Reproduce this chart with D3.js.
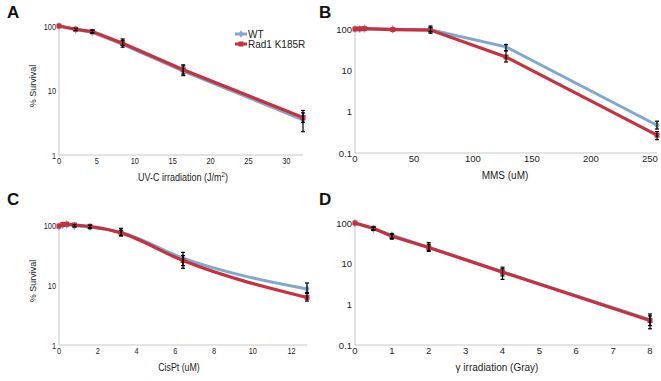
<!DOCTYPE html>
<html><head><meta charset="utf-8">
<script src="https://cdn.jsdelivr.net/npm/d3@7"></script>
<style>
body{margin:0;background:#fff;}
svg{display:block;font-family:"Liberation Sans",Arial,sans-serif;}
</style></head><body>
<svg id="chart" width="661" height="381"></svg>
<script>
// ---- Data ----
const seriesNames = ["WT", "Rad1 K185R"];

// Panel A: UV-C
const uvDose = [0, 2.2, 4.4, 8.4, 16.4, 32.2];
const uvWT = [100, 88, 80, 52, 20, 3.5];
const uvWTLo = [98, 85, 77, 47, 17, 2.3];
const uvWTHi = [102, 92, 86, 63, 25, 4.9];
const uvRad1 = [100, 89, 82, 54, 21, 3.8];
const uvRad1Lo = [98, 86, 79, 50, 18, 3.2];
const uvRad1Hi = [102, 92, 86, 60, 24, 4.5];
const uvXTicks = [0, 5, 10, 15, 20, 25, 30];
const uvYTicks = [1, 10, 100];

// Panel B: MMS
const mmsDose = [0, 4, 8, 32, 64, 128, 256];
const mmsWT = [100, 100, 102, 98, 96, 37, 0.47];
const mmsWTLo = [99, 98, 100, 96, 88, 30, 0.38];
const mmsWTHi = [101, 102, 104, 100, 110, 42, 0.59];
const mmsRad1 = [100, 101, 102, 97, 94, 21, 0.27];
const mmsRad1Lo = [99, 100, 101, 96, 79, 15.9, 0.21];
const mmsRad1Hi = [101, 102, 103, 98, 118, 29.5, 0.33];
const mmsXTicks = [0, 50, 100, 150, 200, 250];
const mmsYTicks = [0.1, 1, 10, 100];

// Panel C: CisPt
const cisDose = [0, 0.2, 0.4, 0.8, 1.6, 3.2, 6.4, 12.8];
const cisWT = [95, 100, 102, 97, 93, 75, 28, 8.6];
const cisWTLo = [93, 97, 99, 93, 87, 66, 19, 7.5];
const cisWTHi = [97, 103, 105, 101, 99, 88, 35, 10.8];
const cisRad1 = [96, 102, 103, 100, 95, 74, 25.5, 6.2];
const cisRad1Lo = [95, 100, 101, 98, 91, 66, 21, 5.4];
const cisRad1Hi = [97, 104, 105, 102, 99, 82, 31, 7.2];
const cisXTicks = [0, 2, 4, 6, 8, 10, 12];
const cisYTicks = [1, 10, 100];

// Panel D: gamma irradiation
const gamDose = [0, 0.5, 1, 2, 4, 8];
const gamWT = [100, 72, 50, 25, 6.3, 0.42];
const gamWTLo = [100, 66, 40, 20, 4.1, 0.25];
const gamWTHi = [100, 80, 55, 33, 8.2, 0.58];
const gamRad1 = [100, 74, 47, 25, 6.2, 0.40];
const gamRad1Lo = [100, 68, 42, 21, 5.0, 0.30];
const gamRad1Hi = [100, 78, 52, 30, 7.5, 0.52];
const gamXTicks = [0, 1, 2, 3, 4, 5, 6, 7, 8];
const gamYTicks = [0.1, 1, 10, 100];

const colors = {"WT": "#7ea7d2", "Rad1 K185R": "#c8303d"};

const svg = d3.select("#chart");

function stext(g, x, y, sx, size, anchor, txt) {
  return g.append("text").attr("transform", `translate(${x},${y}) scale(${sx},1)`)
    .attr("text-anchor", anchor).attr("font-size", size).attr("fill", "#222").text(txt);
}

function panel(o) {
  const sx = o.textScale || 1;
  const x = d3.scaleLinear().domain(o.xDomain).range([o.x0, o.x1]);
  const y = d3.scaleLog().domain(o.yDomain).range([o.y1, o.y0]);
  const g = svg.append("g");
  g.append("line").attr("x1", o.x0).attr("x2", o.x0).attr("y1", o.y0).attr("y2", o.y1)
    .attr("stroke", "#c8c8c8").attr("stroke-width", 1);
  g.append("line").attr("x1", o.x0).attr("x2", o.x1).attr("y1", o.y1).attr("y2", o.y1)
    .attr("stroke", "#c8c8c8").attr("stroke-width", 1);
  o.yTicks.forEach(d => stext(g, o.x0 - 3, y(d) + 3.5, sx, 9.5, "end", d3.format("~g")(d)));
  o.xTicks.forEach(d => stext(g, x(d), o.y1 + 9, sx, 9.5, "middle", d));
  const xt = g.append("text").attr("transform", `translate(${o.xTitleX},${o.y1 + 26}) scale(${o.titleScale || 1},1)`)
    .attr("text-anchor", "middle").attr("font-size", 10).attr("fill", "#222");
  if (o.xTitleSup) {
    xt.append("tspan").text(o.xTitle);
    xt.append("tspan").attr("dy", -4).attr("font-size", 7).text(o.xTitleSup);
    xt.append("tspan").attr("dy", 4).text(o.xTitleEnd);
  } else xt.text(o.xTitle);
  if (o.yTitle) {
    g.append("text").attr("transform", `translate(${o.x0 - 23},${o.yTitleY}) rotate(-90)`)
      .attr("text-anchor", "middle").attr("font-size", 9).attr("fill", "#222").text(o.yTitle);
  }
  g.append("text").attr("x", o.letterX).attr("y", o.letterY)
    .attr("font-size", 17).attr("font-weight", "bold").attr("fill", "#111").text(o.letter);

  const line = d3.line().x(d => x(d.x)).y(d => y(d.y)).curve(o.curve || d3.curveLinear);
  o.series.forEach(s => {
    const pts = o.dose.map((d, i) => ({x: d, y: s.vals[i]}));
    const c = colors[s.name];
    const sg = g.append("g");
    sg.append("path").datum(pts).attr("d", line).attr("fill", "none")
      .attr("stroke", c).attr("stroke-width", s.name === "WT" ? 3 : 3.2);
    if (s.name === "WT") {
      sg.selectAll("path.m").data(pts).join("path").attr("class", "m")
        .attr("d", d3.symbol(d3.symbolDiamond, 22))
        .attr("transform", d => `translate(${x(d.x)},${y(d.y)})`).attr("fill", c);
    } else {
      sg.selectAll("rect.m").data(pts).join("rect").attr("class", "m")
        .attr("x", d => x(d.x) - 2.5).attr("y", d => y(d.y) - 2.5)
        .attr("width", 5).attr("height", 5).attr("fill", c);
    }
  });
  o.series.forEach(s => {
    const eg = g.append("g").attr("stroke", "#000").attr("stroke-width", 1.2);
    o.dose.forEach((d, i) => {
      const lo = s.lo[i], hi = s.hi[i];
      if (Math.abs(y(lo) - y(hi)) < 2) return;
      const px = x(d);
      eg.append("line").attr("x1", px).attr("x2", px).attr("y1", y(lo)).attr("y2", y(hi));
      eg.append("line").attr("x1", px - 2).attr("x2", px + 2).attr("y1", y(lo)).attr("y2", y(lo));
      eg.append("line").attr("x1", px - 2).attr("x2", px + 2).attr("y1", y(hi)).attr("y2", y(hi));
    });
  });
}

panel({x0: 59, x1: 303, y0: 26, y1: 155, xDomain: [0, 32.2], yDomain: [1, 100],
  xTicks: uvXTicks, yTicks: uvYTicks, dose: uvDose, textScale: 0.78, titleScale: 0.9,
  series: [{name: "WT", vals: uvWT, lo: uvWTLo, hi: uvWTHi}, {name: "Rad1 K185R", vals: uvRad1, lo: uvRad1Lo, hi: uvRad1Hi}],
  xTitle: "UV-C irradiation (J/m", xTitleSup: "2", xTitleEnd: ")", xTitleX: 183,
  yTitle: "% Survival", yTitleY: 86, letter: "A", letterX: 7, letterY: 18});

panel({x0: 355, x1: 657, y0: 29, y1: 153, xDomain: [0, 256], yDomain: [0.1, 100],
  xTicks: mmsXTicks, yTicks: mmsYTicks, dose: mmsDose,
  series: [{name: "WT", vals: mmsWT, lo: mmsWTLo, hi: mmsWTHi}, {name: "Rad1 K185R", vals: mmsRad1, lo: mmsRad1Lo, hi: mmsRad1Hi}],
  xTitle: "MMS (uM)", xTitleX: 505, letter: "B", letterX: 319, letterY: 18});

panel({x0: 59, x1: 307, y0: 225, y1: 345, xDomain: [0, 12.8], yDomain: [1, 100],
  xTicks: cisXTicks, yTicks: cisYTicks, dose: cisDose, curve: d3.curveMonotoneX, textScale: 0.78, titleScale: 0.88,
  series: [{name: "WT", vals: cisWT, lo: cisWTLo, hi: cisWTHi}, {name: "Rad1 K185R", vals: cisRad1, lo: cisRad1Lo, hi: cisRad1Hi}],
  xTitle: "CisPt (uM)", xTitleX: 179, yTitle: "% Survival", yTitleY: 281,
  letter: "C", letterX: 7, letterY: 205});

panel({x0: 355, x1: 650, y0: 223, y1: 345, xDomain: [0, 8], yDomain: [0.1, 100],
  xTicks: gamXTicks, yTicks: gamYTicks, dose: gamDose,
  series: [{name: "WT", vals: gamWT, lo: gamWTLo, hi: gamWTHi}, {name: "Rad1 K185R", vals: gamRad1, lo: gamRad1Lo, hi: gamRad1Hi}],
  xTitle: "γ irradiation (Gray)", xTitleX: 497, letter: "D", letterX: 319, letterY: 205});

// legend
const leg = svg.append("g").attr("transform", "translate(235,34)");
seriesNames.forEach((n, i) => {
  const gy = i * 10;
  leg.append("line").attr("x1", 0).attr("x2", 12).attr("y1", gy).attr("y2", gy)
    .attr("stroke", colors[n]).attr("stroke-width", 3);
  if (n === "WT") leg.append("path").attr("d", d3.symbol(d3.symbolDiamond, 18)).attr("transform", `translate(6,${gy})`).attr("fill", colors[n]);
  else leg.append("rect").attr("x", 3.5).attr("y", gy - 2.5).attr("width", 5).attr("height", 5).attr("fill", colors[n]);
  leg.append("text").attr("x", 13).attr("y", gy + 3.5).attr("font-size", 10).attr("fill", "#222").text(n);
});
</script>
</body></html>
